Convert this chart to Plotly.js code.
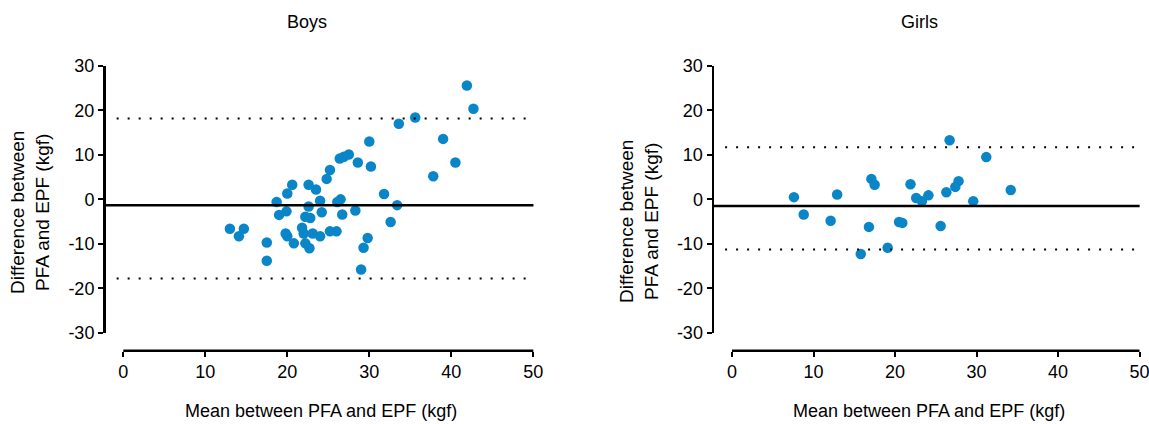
<!DOCTYPE html>
<html>
<head>
<meta charset="utf-8">
<script src="https://cdn.plot.ly/plotly-3.0.1.min.js"></script>
<style>html,body{margin:0;padding:0;background:#fff;}#chart{width:1149px;height:424px;}</style>
</head>
<body>
<div id="chart"></div>
<script>
// ---- Data ----
const boysMean = [41.9, 42.7, 33.6, 35.6, 39.0, 30.0, 40.5, 37.8, 28.6, 30.2, 27.5, 26.9, 26.4, 25.2, 24.8, 20.6, 22.6, 23.5, 20.0, 18.7, 24.0, 26.1, 26.5, 22.6, 28.3, 31.8, 33.4, 32.6, 19.9, 19.0, 24.2, 26.7, 22.2, 22.8, 13.0, 14.7, 14.1, 17.5, 17.5, 19.8, 20.0, 20.8, 21.8, 22.0, 23.1, 24.0, 22.2, 22.7, 25.2, 26.0, 29.8, 29.3, 29.0];
const boysDiff = [25.6, 20.4, 17.0, 18.4, 13.6, 13.0, 8.3, 5.2, 8.3, 7.4, 10.1, 9.6, 9.2, 6.6, 4.6, 3.3, 3.3, 2.2, 1.3, -0.6, -0.3, -0.6, 0.0, -1.6, -2.5, 1.2, -1.3, -5.1, -2.7, -3.5, -2.9, -3.4, -3.9, -4.2, -6.6, -6.6, -8.3, -9.7, -13.8, -7.7, -8.3, -9.9, -6.4, -7.7, -7.7, -8.3, -9.9, -11.0, -7.2, -7.2, -8.7, -10.9, -15.8];
const girlsMean = [7.6, 8.8, 12.9, 12.1, 17.1, 17.5, 16.8, 15.8, 19.1, 20.5, 20.9, 21.9, 22.6, 23.3, 24.1, 25.6, 26.3, 26.7, 27.4, 27.8, 29.6, 31.2, 34.2];
const girlsDiff = [0.5, -3.4, 1.1, -4.8, 4.6, 3.3, -6.2, -12.3, -10.9, -5.1, -5.3, 3.4, 0.3, -0.4, 0.9, -6.0, 1.6, 13.3, 2.8, 4.1, -0.4, 9.5, 2.1];
// Bias and limits of agreement
const boysStats  = {bias: -1.3, upper: 18.2, lower: -17.8};
const girlsStats = {bias: -1.5, upper: 11.7, lower: -11.3};
const panelTitles = ["Boys", "Girls"];
const xTitle = "Mean between PFA and EPF (kgf)";
const yTitle = "Difference between<br>PFA and EPF (kgf)";
const xTicks = [0, 10, 20, 30, 40, 50];
const yTicks = [-30, -20, -10, 0, 10, 20, 30];

// ---- Layout geometry (pixels) ----
const W = 1149, H = 424;
const FONT = "'Liberation Sans', Arial, sans-serif";
const px = v => v / W, py = v => (H - v) / H;
const blue = "#0a86c8";

const yDom = [py(332.7), py(66)];
const xAxisPos = py(350.7);

function xAxis(domLeft, zeroPx, fiftyPx) {
  const perUnit = (fiftyPx - zeroPx) / 50;
  return {
    domain: [px(domLeft), px(fiftyPx + 1)],
    range: [-(zeroPx - domLeft) / perUnit, 50 + 1 / perUnit],
    anchor: "free", position: xAxisPos,
    showline: false, showgrid: false, zeroline: false,
    ticks: "outside", ticklen: 5, tickwidth: 2, tickcolor: "#000",
    tickvals: xTicks, ticktext: xTicks.map(String),
    ticklabeloverflow: "allow",
    tickfont: {family: FONT, size: 18, color: "#000"}
  };
}
function yAxis(anchor) {
  return {
    domain: yDom, range: [-30, 30], anchor: anchor,
    showline: true, linewidth: 2.5, linecolor: "#000",
    showgrid: false, zeroline: false,
    ticks: "outside", ticklen: 5, tickwidth: 2, tickcolor: "#000",
    tickvals: yTicks, ticktext: yTicks.map(String),
    ticklabeloverflow: "allow",
    tickfont: {family: FONT, size: 18, color: "#000"}
  };
}

const traces = [
  {x: boysMean, y: boysDiff, xaxis: "x", yaxis: "y", type: "scatter", mode: "markers",
   marker: {size: 10.5, color: blue}, cliponaxis: false, hoverinfo: "x+y"},
  {x: girlsMean, y: girlsDiff, xaxis: "x2", yaxis: "y2", type: "scatter", mode: "markers",
   marker: {size: 10.5, color: blue}, cliponaxis: false, hoverinfo: "x+y"}
];

function refShapes(xa, ya, st) {
  return [
    {type: "line", xref: xa + " domain", yref: ya, x0: 0, x1: 0.998, y0: st.bias, y1: st.bias,
     line: {color: "#000", width: 2.5}},
    {type: "line", xref: xa + " domain", yref: ya, x0: 0.026, x1: 1, y0: st.upper, y1: st.upper,
     line: {color: "#000", width: 2, dash: "2px,9px"}},
    {type: "line", xref: xa + " domain", yref: ya, x0: 0.026, x1: 1, y0: st.lower, y1: st.lower,
     line: {color: "#000", width: 2, dash: "2px,9px"}},
    // x axis line spanning only 0..50
    {type: "line", xref: xa, yref: "paper", x0: xTicks[0], x1: xTicks[xTicks.length - 1],
     y0: xAxisPos, y1: xAxisPos, line: {color: "#000", width: 2.5}}
  ];
}

const ann = (text, x, y, extra) => Object.assign({
  text: text, xref: "paper", yref: "paper", x: px(x), y: py(y),
  xanchor: "center", yanchor: "middle", showarrow: false,
  font: {family: FONT, size: 18, color: "#000"}
}, extra || {});

const layout = {
  width: W, height: H,
  margin: {l: 0, r: 0, t: 0, b: 0},
  paper_bgcolor: "#fff", plot_bgcolor: "rgba(0,0,0,0)",
  showlegend: false,
  xaxis: xAxis(105.5, 123.3, 533.3),
  yaxis: yAxis("x"),
  xaxis2: xAxis(714, 732, 1139.5),
  yaxis2: yAxis("x2"),
  shapes: refShapes("x", "y", boysStats).concat(refShapes("x2", "y2", girlsStats)),
  annotations: [
    ann(panelTitles[0], 307, 22),
    ann(panelTitles[1], 919, 22),
    ann(xTitle, 321, 411),
    ann(xTitle, 929, 411),
    ann(yTitle, 30, 213, {textangle: -90, font: {family: FONT, size: 19, color: "#000"}}),
    ann(yTitle, 639, 222, {textangle: -90, font: {family: FONT, size: 19, color: "#000"}})
  ]
};

Plotly.newPlot("chart", traces, layout, {displayModeBar: false, staticPlot: true});
</script>
</body>
</html>
